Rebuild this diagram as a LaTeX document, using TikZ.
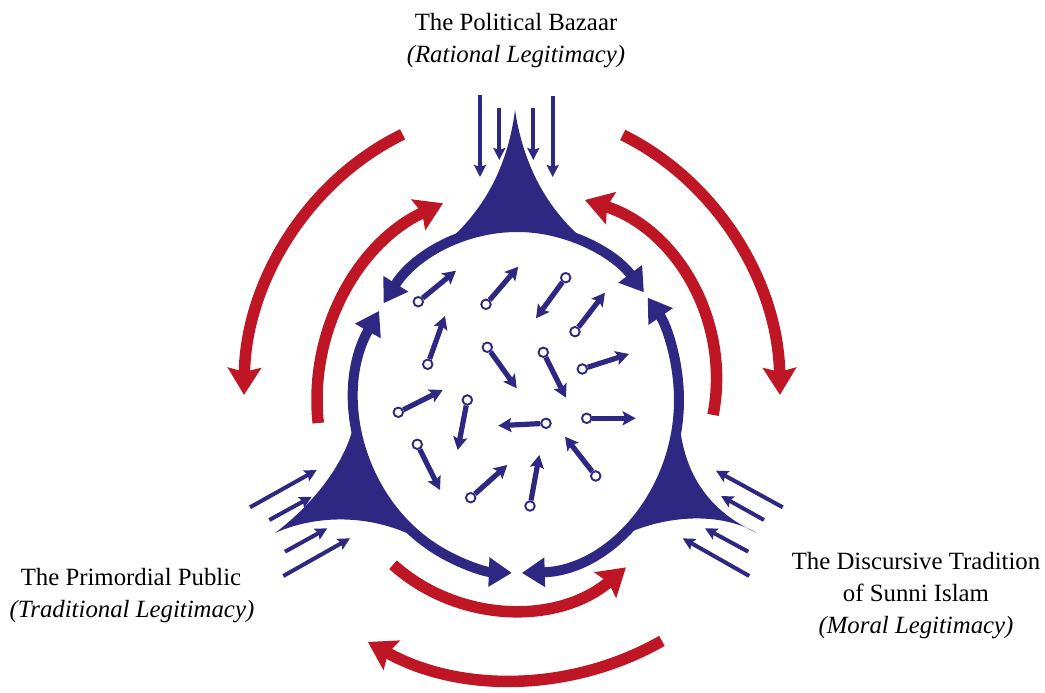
\documentclass[tikz,border=0pt]{standalone}
\usepackage{fontspec}
\setmainfont{Liberation Serif}
\usetikzlibrary{arrows.meta}
\definecolor{ringblue}{RGB}{47,40,130}
\definecolor{arcred}{RGB}{190,22,36}
\begin{document}
\begin{tikzpicture}[x=1pt,y=-1pt,
  ringarc/.style={draw=ringblue,line width=10pt,{Triangle[length=23pt,width=28pt]}-{Triangle[length=23pt,width=28pt]}},
  redarc/.style={draw=arcred,line width=11.5pt,-{Stealth[length=27pt,width=33pt,inset=4pt]}},
  inarrow/.style={draw=ringblue,line width=4pt,-{Stealth[length=12pt,width=12pt,inset=2pt]}},
  smallarrow/.style={draw=ringblue,line width=5.2pt,-{Stealth[length=13pt,width=14pt,inset=2.5pt]}},
  dot/.style={circle,draw=ringblue,line width=1.9pt,fill=white,minimum size=9.5pt,inner sep=0pt},
  lbl/.style={font=\fontsize{24.8}{32}\selectfont,anchor=base,inner sep=0pt}
]
\useasboundingbox (0,0) rectangle (1045,693);
\fill[white] (0,0) rectangle (1045,693);
\def\ex{517.5}\def\ey{400}\def\ea{161.5}\def\eb{173}

% horns
\fill[ringblue] (430,254.6) .. controls (462,233) and (505,190) .. (515,110) .. controls (527,190) and (570,233) .. (602,252.6)
  -- plot[domain=58.46:122.8,samples=24] ({\ex+\ea*cos(\x)},{\ey-\eb*sin(\x)}) -- cycle;
\fill[ringblue] (356.1,405) .. controls (356,445) and (325,495) .. (275,533) .. controls (322,512) and (385,514) .. (435,548.7)
  -- plot[domain=239.3:181.66,samples=24] ({\ex+\ea*cos(\x)},{\ey-\eb*sin(\x)}) -- cycle;
\fill[ringblue] (678.7,410) .. controls (680,455) and (695,505) .. (757,533) .. controls (712,507) and (643,518) .. (600,548.7)
  -- plot[domain=300.7:356.69,samples=24] ({\ex+\ea*cos(\x)},{\ey-\eb*sin(\x)}) -- cycle;

% blue ring arcs
\draw[ringarc] ({\ex+\ea*cos(146)},{\ey-\eb*sin(146)}) arc[start angle=-146,end angle=-38.5,x radius=\ea,y radius=\eb];
\draw[ringarc] ({\ex+\ea*cos(149)},{\ey-\eb*sin(149)}) arc[start angle=-149,end angle=-268,x radius=\ea,y radius=\eb];
\draw[ringarc] ({\ex+\ea*cos(271.5)},{\ey-\eb*sin(271.5)}) arc[start angle=-271.5,end angle=-396.3,x radius=\ea,y radius=\eb];

% red arcs
\draw[redarc] ({512+268*cos(114.1)},{400-291*sin(114.1)}) arc[start angle=-114.1,end angle=-179,x radius=268,y radius=291];
\draw[redarc] ({512+268*cos(65.6)},{400-291*sin(65.6)}) arc[start angle=-65.6,end angle=-1,x radius=268,y radius=291];
\draw[redarc] ({533.5+216.5*cos(186.1)},{400-216.5*sin(186.1)}) arc[start angle=-186.1,end angle=-114.7,radius=216.5];
\draw[redarc] ({528.8+187.7*cos(-11)},{379.1-187.7*sin(-11)}) arc[start angle=11,end angle=-72.6,radius=187.7];
\draw[redarc] ({511+177*cos(228.2)},{432.8-177*sin(228.2)}) arc[start angle=-228.2,end angle=-310.5,radius=177];
\draw[redarc] ({514+299.5*cos(299.6)},{380.5-299.5*sin(299.6)}) arc[start angle=-299.6,end angle=-240.8,radius=299.5];

% incoming arrows
\foreach \i/\ax/\ay/\bx/\by in {1/480/95/480/177, 2/499.3/108/499.3/160, 3/533.3/108/533.3/160, 4/552.7/96/552.7/177,
  5/250/507.3/316.7/470, 6/269.3/520/311.7/496.7, 7/285/551.7/327.3/528.3, 8/283.3/576/350/538.3,
  9/782.7/507.3/716/470.7, 10/764/520/721/496, 11/748.3/551.7/705/528.3, 12/749.3/576/682.7/538.3}{
  \coordinate (s\i) at (\ax,\ay);
  \coordinate (e\i) at (\bx,\by);
  \draw[inarrow] (s\i) -- (e\i);
}

% particles
\foreach \i/\ax/\ay/\bx/\by in {1/418.3/301.7/456/270.7, 2/486/304.3/518.3/266.7, 3/565.7/277.7/536/318.3, 4/575/331.7/605/292.7,
  5/427.7/364.3/445/316, 6/487.3/347.3/516.7/388.3, 7/543.3/352.3/566/397.7, 8/582.3/369/629/354,
  9/398.3/412.3/442.7/390, 10/467.3/400/457.7/450, 11/546/423.3/498.3/425.7, 12/586.7/418.3/635.7/418.3,
  13/417.3/444.3/440/490, 14/470.7/497.7/507.3/465, 15/530/506/539.3/455, 16/595.7/476/565/436.7}{
  \node[dot] (d\i) at (\ax,\ay) {};
  \coordinate (t\i) at (\bx,\by);
  \draw[smallarrow] (d\i) -- (t\i);
}

% labels
\node[lbl] (top1) at (516,31) {The Political Bazaar};
\node[lbl] (top2) at (516,63) {\itshape (Rational Legitimacy)};
\node[lbl] (left1) at (131,585) {The Primordial Public};
\node[lbl] (left2) at (132,617) {\itshape (Traditional Legitimacy)};
\node[lbl] (right1) at (916,569) {The Discursive Tradition};
\node[lbl] (right2) at (916,601) {of Sunni Islam};
\node[lbl] (right3) at (916,633) {\itshape (Moral Legitimacy)};
\end{tikzpicture}
\end{document}
